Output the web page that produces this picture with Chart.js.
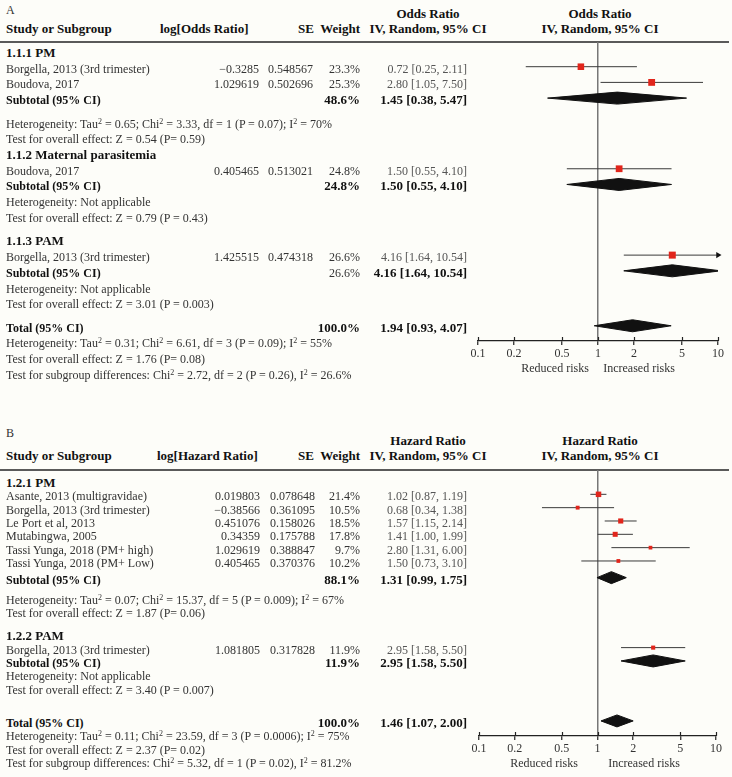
<!DOCTYPE html>
<html>
<head>
<meta charset="utf-8">
<script src="https://cdn.jsdelivr.net/npm/chart.js@4.4.1/dist/chart.umd.min.js"></script>
<style>
  body { margin: 0; background: #fdfdf9; }
  #page { position: relative; width: 732px; height: 777px; overflow: hidden; background: #fdfdf9;
          font-family: "Liberation Serif", "Times New Roman", serif; font-size: 12px; color: #333; }
  .t { position: absolute; white-space: nowrap; line-height: 14px; }
  .b { font-weight: bold; color: #111; }
  .h { font-weight: bold; color: #111; font-size: 13px; }
  .g { color: #555; }
  .rule { position: absolute; left: 0; width: 729px; height: 2px; background: #5a5a5a; }
  canvas { position: absolute; }
  sup { font-size: 8px; line-height: 0; vertical-align: 4px; }
</style>
</head>
<body>
<div id="page"></div>
<script>
// ---- Panel A : odds ratio ----
const groupsA = ['1.1.1 PM', '1.1.2 Maternal parasitemia', '1.1.3 PAM'];
const studyA = ['Borgella, 2013 (3rd trimester)', 'Boudova, 2017', 'Boudova, 2017', 'Borgella, 2013 (3rd trimester)'];
const groupOfA = [0, 0, 1, 2];
const logA = ['\u22120.3285', '1.029619', '0.405465', '1.425515'];
const seA = ['0.548567', '0.502696', '0.513021', '0.474318'];
const weightA = [23.3, 25.3, 24.8, 26.6];
const estA = [0.72, 2.80, 1.50, 4.16];
const loA = [0.25, 1.05, 0.55, 1.64];
const hiA = [2.11, 7.50, 4.10, 10.54];
const subWeightA = [48.6, 24.8, 26.6];
const subBoldA = [true, true, false];
const subEstA = [1.45, 1.50, 4.16];
const subLoA = [0.38, 0.55, 1.64];
const subHiA = [5.47, 4.10, 10.54];
const hetA = ['Heterogeneity: Tau<sup>2</sup> = 0.65; Chi<sup>2</sup> = 3.33, df = 1 (P = 0.07); I<sup>2</sup> = 70%',
              'Heterogeneity: Not applicable', 'Heterogeneity: Not applicable'];
const effA = ['Test for overall effect: Z = 0.54 (P= 0.59)', 'Test for overall effect: Z = 0.79 (P = 0.43)',
              'Test for overall effect: Z = 3.01 (P = 0.003)'];
const totalA = [1.94, 0.93, 4.07];
const totalNotesA = ['Heterogeneity: Tau<sup>2</sup> = 0.31; Chi<sup>2</sup> = 6.61, df = 3 (P = 0.09); I<sup>2</sup> = 55%',
                     'Test for overall effect: Z = 1.76 (P= 0.08)',
                     'Test for subgroup differences: Chi<sup>2</sup> = 2.72, df = 2 (P = 0.26), I<sup>2</sup> = 26.6%'];

// ---- Panel B : hazard ratio ----
const groupsB = ['1.2.1 PM', '1.2.2 PAM'];
const studyB = ['Asante, 2013 (multigravidae)', 'Borgella, 2013 (3rd trimester)', 'Le Port et al, 2013', 'Mutabingwa, 2005',
                'Tassi Yunga, 2018 (PM+ high)', 'Tassi Yunga, 2018 (PM+ Low)', 'Borgella, 2013 (3rd trimester)'];
const groupOfB = [0, 0, 0, 0, 0, 0, 1];
const logB = ['0.019803', '\u22120.38566', '0.451076', '0.34359', '1.029619', '0.405465', '1.081805'];
const seB = ['0.078648', '0.361095', '0.158026', '0.175788', '0.388847', '0.370376', '0.317828'];
const weightB = [21.4, 10.5, 18.5, 17.8, 9.7, 10.2, 11.9];
const estB = [1.02, 0.68, 1.57, 1.41, 2.80, 1.50, 2.95];
const loB = [0.87, 0.34, 1.15, 1.00, 1.31, 0.73, 1.58];
const hiB = [1.19, 1.38, 2.14, 1.99, 6.00, 3.10, 5.50];
const subWeightB = [88.1, 11.9];
const subBoldB = [true, true];
const subEstB = [1.31, 2.95];
const subLoB = [0.99, 1.58];
const subHiB = [1.75, 5.50];
const hetB = ['Heterogeneity: Tau<sup>2</sup> = 0.07; Chi<sup>2</sup> = 15.37, df = 5 (P = 0.009); I<sup>2</sup> = 67%',
              'Heterogeneity: Not applicable'];
const effB = ['Test for overall effect: Z = 1.87 (P= 0.06)', 'Test for overall effect: Z = 3.40 (P = 0.007)'];
const totalB = [1.46, 1.07, 2.00];
const totalNotesB = ['Heterogeneity: Tau<sup>2</sup> = 0.11; Chi<sup>2</sup> = 23.59, df = 3 (P = 0.0006); I<sup>2</sup> = 75%',
                     'Test for overall effect: Z = 2.37 (P= 0.02)',
                     'Test for subgroup differences: Chi<sup>2</sup> = 5.32, df = 1 (P = 0.02), I<sup>2</sup> = 81.2%'];

const tickVals = [0.1, 0.2, 0.5, 1, 2, 5, 10];

// espacamento das linhas (em unidades de linha)
const stepsA = [0, 1, 1, 1, 1.5, 1, 1, 1, 1, 1, 1, 1.5, 1, 1, 1, 1, 1.5, 1, 1, 1];
const stepsB = [0, 1, 1, 1, 1, 1, 1, 1.25, 1.5, 1, 1.75, 1, 1, 1, 1, 2.5, 1, 1, 1];

const page = document.getElementById('page');

function txt(html, x, yc, align, cls) {
    const d = document.createElement('div');
    d.className = 't ' + (cls || '');
    d.innerHTML = html;
    d.style.top = (yc - 7) + 'px';
    if (align === 'right') d.style.right = (732 - x) + 'px';
    else if (align === 'center') { d.style.left = (x - 150) + 'px'; d.style.width = '300px'; d.style.textAlign = 'center'; }
    else d.style.left = x + 'px';
    page.appendChild(d);
}

const ci = (e, l, h) => e.toFixed(2) + ' [' + l.toFixed(2) + ', ' + h.toFixed(2) + ']';

function buildRows(p) {
    const rows = [];
    p.groups.forEach((g, gi) => {
        rows.push({ kind: 'group', text: g });
        p.groupOf.forEach((go, i) => { if (go === gi) rows.push({ kind: 'study', i }); });
        rows.push({ kind: 'sub', gi });
        rows.push({ kind: 'note', html: p.het[gi] });
        rows.push({ kind: 'note', html: p.eff[gi] });
    });
    rows.push({ kind: 'total' });
    p.totalNotes.forEach(h => rows.push({ kind: 'note', html: h }));
    let pos = 0;
    rows.forEach((r, k) => { pos += p.steps[k]; r.pos = pos; });
    return rows;
}

function diamond(lo, est, hi, y, h) {
    const base = { backgroundColor: '#111', borderColor: '#111', borderWidth: 1, pointRadius: 0, order: 1 };
    return [
        Object.assign({ data: [{ x: lo, y }, { x: est, y: y - h }, { x: hi, y }], fill: '+1' }, base),
        Object.assign({ data: [{ x: lo, y }, { x: est, y: y + h }, { x: hi, y }], fill: false }, base)
    ];
}

function buildDatasets(p, rows) {
    const ds = [];
    const half = p.diamondPx * (p.yMax - p.yMin) / p.plotH;
    const wMax = Math.max(...p.weight);
    const squares = [], sizes = [], arrows = [];
    rows.forEach(r => {
        if (r.kind === 'study') {
            const i = r.i;
            ds.push({ data: [{ x: p.lo[i], y: r.pos }, { x: p.hi[i], y: r.pos }],
                      borderColor: '#3a3a3a', borderWidth: 1, pointRadius: 0, fill: false, order: 2 });
            squares.push({ x: p.est[i], y: r.pos });
            sizes.push(Math.sqrt(p.weight[i] / wMax) * p.maxSide / 1.414);
            if (p.hi[i] > 10) arrows.push({ x: 10, y: r.pos });
        } else if (r.kind === 'sub') {
            ds.push(...diamond(p.subLo[r.gi], p.subEst[r.gi], p.subHi[r.gi], r.pos, half));
        } else if (r.kind === 'total') {
            ds.push(...diamond(p.total[1], p.total[0], p.total[2], r.pos, half));
        }
    });
    ds.push({ data: squares, showLine: false, pointStyle: 'rect', pointRadius: sizes,
              pointBackgroundColor: '#e1251b', pointBorderWidth: 0, order: 0 });
    ds.push({ data: arrows, showLine: false, pointStyle: 'triangle', pointRotation: 90, pointRadius: 3.5,
              pointBackgroundColor: '#111', pointBorderWidth: 0, clip: false, order: 0 });
    return ds;
}

// marcas cruzando o eixo (metade de cima)
const tickCross = {
    id: 'tickCross',
    afterDraw(chart) {
        const sx = chart.scales.x, ctx = chart.ctx, b = chart.chartArea.bottom;
        ctx.save();
        ctx.strokeStyle = '#222';
        ctx.lineWidth = 1.2;
        sx.ticks.forEach(t => {
            const x = Math.round(sx.getPixelForValue(t.value)) + 0.5;
            ctx.beginPath(); ctx.moveTo(x, b - 4); ctx.lineTo(x, b); ctx.stroke();
        });
        ctx.restore();
    }
};

function drawPanel(p) {
    const rows = buildRows(p);

    txt(p.letter, 6, p.letterY, 'left');
    txt(p.measure, 428, p.head1Y, 'center', 'h');
    txt('IV, Random, 95% CI', 428, p.head2Y, 'center', 'h');
    txt(p.measure, 600, p.head1Y, 'center', 'h');
    txt('IV, Random, 95% CI', 600, p.head2Y, 'center', 'h');
    txt('Study or Subgroup', 6, p.head2Y, 'left', 'h');
    txt(p.logHead, p.logHeadX, p.head2Y, 'left', 'h');
    txt('SE', 314, p.head2Y, 'right', 'h');
    txt('Weight', 360, p.head2Y, 'right', 'h');
    const rule = document.createElement('div');
    rule.className = 'rule';
    rule.style.top = p.ruleY + 'px';
    page.appendChild(rule);

    const cv = document.createElement('canvas');
    cv.width = 292;
    cv.height = p.plotH + 30;
    cv.style.left = '440px';
    cv.style.top = p.canvasTop + 'px';
    page.appendChild(cv);

    const chart = new Chart(cv.getContext('2d'), {
        type: 'line',
        data: { datasets: buildDatasets(p, rows) },
        options: {
            responsive: false,
            animation: false,
            events: [],
            elements: { line: { tension: 0 } },
            layout: { autoPadding: false, padding: { left: p.plotLeft - 440, right: 732 - p.plotRight, top: 0, bottom: 0 } },
            plugins: { legend: { display: false }, tooltip: { enabled: false } },
            scales: {
                x: {
                    type: 'logarithmic',
                    min: 0.1,
                    max: 10,
                    afterBuildTicks: s => { s.ticks = tickVals.map(v => ({ value: v })); },
                    afterFit: s => { s.height = 30; s.paddingLeft = 0; s.paddingRight = 0; },
                    ticks: {
                        autoSkip: false, maxRotation: 0, padding: 2, color: '#333',
                        font: { family: 'Liberation Serif', size: 12 },
                        callback: v => String(v)
                    },
                    grid: {
                        drawOnChartArea: true,
                        color: c => (c.tick && c.tick.value === 1) ? '#777' : 'rgba(0,0,0,0)',
                        lineWidth: 1.5,
                        tickColor: '#222',
                        tickWidth: 1.2,
                        tickLength: 4
                    },
                    border: { display: true, color: '#222', width: 1.2 }
                },
                y: { type: 'linear', reverse: true, min: p.yMin, max: p.yMax, display: false }
            }
        },
        plugins: [tickCross]
    });

    const ys = chart.scales.y;
    const yOf = pos => p.canvasTop + ys.getPixelForValue(pos) + p.textShift;
    rows.forEach(r => {
        const y = yOf(r.pos);
        if (r.kind === 'group') {
            txt(r.text, 6, y, 'left', 'h');
        } else if (r.kind === 'study') {
            const i = r.i;
            txt(p.names[i], 6, y, 'left');
            txt(p.logs[i], p.logX, y, 'right');
            txt(p.ses[i], p.seX, y, 'right');
            txt(p.weight[i].toFixed(1) + '%', 360, y, 'right');
            txt(ci(p.est[i], p.lo[i], p.hi[i]), 467, y, 'right', 'g');
        } else if (r.kind === 'sub') {
            const g = r.gi;
            txt('Subtotal (95% CI)', 6, y, 'left', 'b');
            txt(p.subW[g].toFixed(1) + '%', 360, y, 'right', p.subBold[g] ? 'h' : '');
            txt(ci(p.subEst[g], p.subLo[g], p.subHi[g]), 467, y, 'right', 'h');
        } else if (r.kind === 'total') {
            txt('Total (95% CI)', 6, y, 'left', 'b');
            txt('100.0%', 360, y, 'right', 'h');
            txt(ci(p.total[0], p.total[1], p.total[2]), 467, y, 'right', 'h');
        } else {
            txt(r.html, 6, y, 'left');
        }
    });
    txt('Reduced risks', p.reducedX, p.riskY, 'center');
    txt('Increased risks', p.increasedX, p.riskY, 'center');
}

drawPanel({
    letter: 'A', letterY: 10, head1Y: 14, head2Y: 29, ruleY: 41,
    measure: 'Odds Ratio', logHead: 'log[Odds Ratio]', logHeadX: 160, logX: 259, seX: 313,
    canvasTop: 42, plotH: 299, plotLeft: 478, plotRight: 718,
    yMin: -0.573, yMax: 18.47, textShift: 2, steps: stepsA, diamondPx: 6, maxSide: 7,
    riskY: 368, reducedX: 555, increasedX: 639,
    groups: groupsA, names: studyA, groupOf: groupOfA, logs: logA, ses: seA, weight: weightA,
    est: estA, lo: loA, hi: hiA, subW: subWeightA, subBold: subBoldA, subEst: subEstA, subLo: subLoA, subHi: subHiA,
    het: hetA, eff: effA, total: totalA, totalNotes: totalNotesA
});

drawPanel({
    letter: 'B', letterY: 433, head1Y: 441, head2Y: 456, ruleY: 469,
    measure: 'Hazard Ratio', logHead: 'log[Hazard Ratio]', logHeadX: 157, logX: 260, seX: 315,
    canvasTop: 470, plotH: 266, plotLeft: 479, plotRight: 716,
    yMin: -0.825, yMax: 19.13, textShift: 2, steps: stepsB, diamondPx: 6, maxSide: 5.5,
    riskY: 763, reducedX: 544, increasedX: 644,
    groups: groupsB, names: studyB, groupOf: groupOfB, logs: logB, ses: seB, weight: weightB,
    est: estB, lo: loB, hi: hiB, subW: subWeightB, subBold: subBoldB, subEst: subEstB, subLo: subLoB, subHi: subHiB,
    het: hetB, eff: effB, total: totalB, totalNotes: totalNotesB
});
</script>
</body>
</html>
